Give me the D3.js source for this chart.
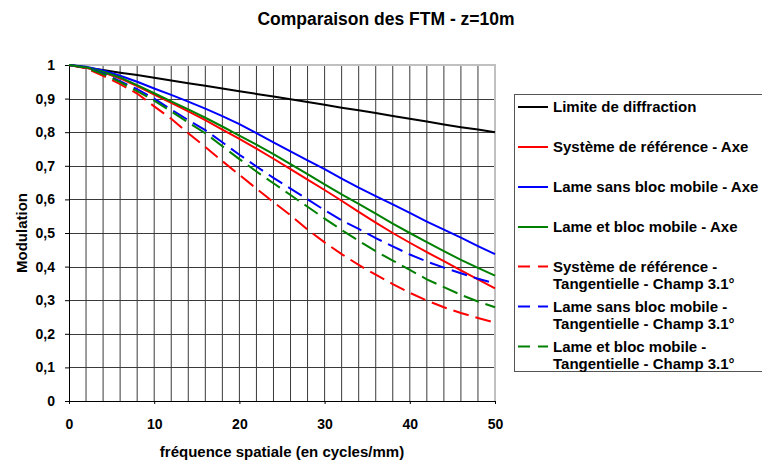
<!DOCTYPE html>
<html><head><meta charset="utf-8">
<script src="https://cdn.jsdelivr.net/npm/d3@7"></script>
<style>body{margin:0;background:#fff}svg{display:block;font-family:"Liberation Sans",Arial,sans-serif;font-weight:bold}</style>
</head><body>
<svg id="c" width="762" height="463"></svg>
<script>
const freq = [0,2,4,6,8,10,12,14,16,18,20,22,24,26,28,30,32,34,36,38,40,42,44,46,48,50];
const diffraction = [1,0.992,0.985,0.977,0.97,0.962,0.954,0.946,0.938,0.93,0.922,0.914,0.906,0.898,0.89,0.882,0.873,0.865,0.857,0.848,0.84,0.832,0.823,0.815,0.808,0.80];
const refAxe = [1,0.992,0.978,0.96,0.937,0.912,0.887,0.862,0.836,0.808,0.78,0.751,0.721,0.69,0.659,0.628,0.596,0.563,0.531,0.5,0.471,0.443,0.416,0.389,0.362,0.335];
const lameSansAxe = [1,0.995,0.984,0.968,0.95,0.93,0.911,0.891,0.87,0.848,0.824,0.797,0.77,0.743,0.716,0.69,0.662,0.635,0.61,0.585,0.56,0.534,0.51,0.486,0.461,0.437];
const lameBlocAxe = [1,0.993,0.98,0.963,0.94,0.916,0.892,0.868,0.843,0.817,0.79,0.763,0.735,0.705,0.675,0.645,0.615,0.587,0.558,0.528,0.5,0.473,0.446,0.42,0.396,0.373];
const refTan = [1,0.99,0.968,0.943,0.915,0.877,0.84,0.797,0.756,0.714,0.673,0.632,0.592,0.553,0.51,0.472,0.437,0.405,0.376,0.348,0.322,0.299,0.279,0.262,0.247,0.233];
const lameSansTan = [1,0.993,0.975,0.952,0.928,0.9,0.867,0.836,0.806,0.77,0.733,0.698,0.664,0.632,0.6,0.568,0.538,0.512,0.485,0.46,0.436,0.415,0.397,0.38,0.364,0.35];
const lameBlocTan = [1,0.992,0.973,0.949,0.922,0.894,0.862,0.829,0.797,0.758,0.72,0.683,0.648,0.613,0.578,0.543,0.509,0.477,0.446,0.418,0.39,0.362,0.339,0.316,0.296,0.279];

const seriesNames = [["Limite de diffraction"],["Système de référence - Axe"],["Lame sans bloc mobile - Axe"],["Lame et bloc mobile - Axe"],["Système de référence -","Tangentielle - Champ 3.1°"],["Lame sans bloc mobile -","Tangentielle - Champ 3.1°"],["Lame et bloc mobile -","Tangentielle - Champ 3.1°"]];
const seriesValues = [diffraction, refAxe, lameSansAxe, lameBlocAxe, refTan, lameSansTan, lameBlocTan];
const seriesColors = ["#000000","#ff0000","#0000ff","#008000","#ff0000","#0000ff","#008000"];
const seriesDashed = [false,false,false,false,true,true,true];

const xTicks = [0,10,20,30,40,50];
const yTicks = [0,0.1,0.2,0.3,0.4,0.5,0.6,0.7,0.8,0.9,1];
const yTickLabels = ["0","0,1","0,2","0,3","0,4","0,5","0,6","0,7","0,8","0,9","1"];
const xGrid = [2,4,6,8,10,12,14,16,18,20,22,24,26,28,30,32,34,36,38,40,42,44,46,48];
const yGrid = [0.1,0.2,0.3,0.4,0.5,0.6,0.7,0.8,0.9];

const svg = d3.select("#c");
const x = d3.scaleLinear().domain([0,50]).range([69,495]);
const y = d3.scaleLinear().domain([0,1]).range([401,65]);

// grid
svg.append("g").selectAll("line").data(xGrid).join("line")
  .attr("x1",d=>x(d)).attr("x2",d=>x(d)).attr("y1",y(0)).attr("y2",y(1))
  .attr("stroke","#3a3a3a").attr("stroke-width",1);
svg.append("g").selectAll("line").data(yGrid).join("line")
  .attr("x1",x(0)).attr("x2",x(50)).attr("y1",d=>Math.round(y(d))+0.5).attr("y2",d=>Math.round(y(d))+0.5)
  .attr("stroke","#3a3a3a").attr("stroke-width",1);
// plot border top/right
svg.append("path").attr("d",`M${x(0)},${y(1)}H${x(50)}V${y(0)}`).attr("fill","none").attr("stroke","#c0c0c0").attr("stroke-width",2);

// axes
const ax = svg.append("g").attr("transform",`translate(0,${y(0)})`)
  .call(d3.axisBottom(x).tickValues(xTicks).tickSize(3).tickSizeOuter(0).tickPadding(15).tickFormat(d3.format("d")));
const ay = svg.append("g").attr("transform",`translate(${x(0)},0)`)
  .call(d3.axisLeft(y).tickValues(yTicks).tickSize(4).tickSizeOuter(0).tickPadding(10).tickFormat((d,i)=>yTickLabels[i]));
[ax,ay].forEach(g=>{
  g.selectAll("text").attr("font-size",14).attr("font-family","'Liberation Sans',Arial,sans-serif").attr("font-weight","bold").attr("fill","#000");
  g.selectAll("line,path").attr("stroke","#000");
});

// lines
const line = d3.line().x((d,i)=>x(freq[i])).y(d=>y(d));
seriesValues.forEach((vals,k)=>{
  svg.append("path").datum(vals).attr("d",line).attr("fill","none")
    .attr("stroke",seriesColors[k]).attr("stroke-width",2)
    .attr("stroke-dasharray",seriesDashed[k]?"16,7":null);
});

// titles
svg.append("text").attr("x",386).attr("y",25).attr("text-anchor","middle").attr("font-size",17.5).text("Comparaison des FTM - z=10m");
svg.append("text").attr("x",282).attr("y",457).attr("text-anchor","middle").attr("font-size",15).text("fréquence spatiale (en cycles/mm)");
svg.append("text").attr("transform","translate(27,233) rotate(-90)").attr("text-anchor","middle").attr("font-size",15).text("Modulation");

// legend
svg.append("rect").attr("x",514.5).attr("y",94.5).attr("width",260).attr("height",277).attr("fill","#fff").attr("stroke","#555");
const legY = [107,147,187,227,266.5,306.5,346.5];
seriesNames.forEach((lines,k)=>{
  const g = svg.append("g");
  g.append("line").attr("x1",518).attr("x2",548).attr("y1",legY[k]).attr("y2",legY[k])
    .attr("stroke",seriesColors[k]).attr("stroke-width",2).attr("stroke-dasharray",seriesDashed[k]?"12,8":null);
  lines.forEach((t,j)=>{
    g.append("text").attr("x",553).attr("y",legY[k]+j*17.5).attr("dy","0.36em").attr("font-size",15).text(t);
  });
});
</script>
</body></html>
